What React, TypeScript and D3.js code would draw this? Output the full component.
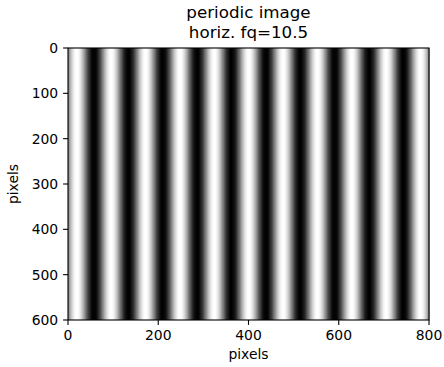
import React from "react";
import * as d3 from "d3";

// image definition (from the title): horizontal sine, fq cycles over the width
const fq = 10.5;
const imgWidth = 800;
const imgHeight = 600;
const titleLines = ["periodic image", "horiz. fq=10.5"];
const xTicks = [0, 200, 400, 600, 800];
const yTicks = [0, 100, 200, 300, 400, 500, 600];
const xLabel = "pixels";
const yLabel = "pixels";

// one intensity per image column
const columns = d3.range(imgWidth).map((i) => ({
  col: i,
  v: Math.sin((2 * Math.PI * fq * i) / imgWidth),
}));

const W = 444;
const H = 367;
const margin = { left: 68, right: 15, top: 48, bottom: 47 };
const font = "DejaVu Sans, sans-serif";

export default function App() {
  const x = d3.scaleLinear().domain([0, imgWidth]).range([margin.left, W - margin.right]);
  const y = d3.scaleLinear().domain([0, imgHeight]).range([margin.top, H - margin.bottom]);
  const gray = d3.scaleLinear<string>().domain([-1, 1]).range(["#000000", "#ffffff"]);
  const step = x(1) - x(0);
  const cx = (x(0) + x(imgWidth)) / 2;
  const cy = (y(0) + y(imgHeight)) / 2;

  return (
    <svg
      width={W}
      height={H}
      style={{ position: "absolute", left: 0, top: 0, background: "#fff" }}
      fontFamily={font}
    >
      <g>
        {columns.map((d) => (
          <rect
            key={d.col}
            x={x(d.col)}
            y={y(0)}
            width={step + 0.6}
            height={y(imgHeight) - y(0)}
            fill={gray(d.v)}
          />
        ))}
      </g>

      {/* frame */}
      <rect
        x={x(0)}
        y={y(0)}
        width={x(imgWidth) - x(0)}
        height={y(imgHeight) - y(0)}
        fill="none"
        stroke="#000"
        strokeWidth={1.1}
      />

      {/* x axis */}
      <g>
        {xTicks.map((t) => (
          <g key={t} transform={`translate(${x(t)},${y(imgHeight)})`}>
            <line y2={4.9} stroke="#000" strokeWidth={1.1} />
            <text y={19.5} textAnchor="middle" fontSize={13.9} fill="#000">
              {t}
            </text>
          </g>
        ))}
        <text x={cx} y={H - 8} textAnchor="middle" fontSize={13.9} fill="#000">
          {xLabel}
        </text>
      </g>

      {/* y axis */}
      <g>
        {yTicks.map((t) => (
          <g key={t} transform={`translate(${x(0)},${y(t)})`}>
            <line x2={-4.9} stroke="#000" strokeWidth={1.1} />
            <text x={-9.8} dy="0.36em" textAnchor="end" fontSize={13.9} fill="#000">
              {t}
            </text>
          </g>
        ))}
        <text
          transform={`translate(18,${cy}) rotate(-90)`}
          textAnchor="middle"
          fontSize={13.9}
          fill="#000"
        >
          {yLabel}
        </text>
      </g>

      {/* title */}
      {titleLines.map((s, i) => (
        <text key={i} x={cx} y={18 + i * 19.5} textAnchor="middle" fontSize={16.7} fill="#000">
          {s}
        </text>
      ))}
    </svg>
  );
}
